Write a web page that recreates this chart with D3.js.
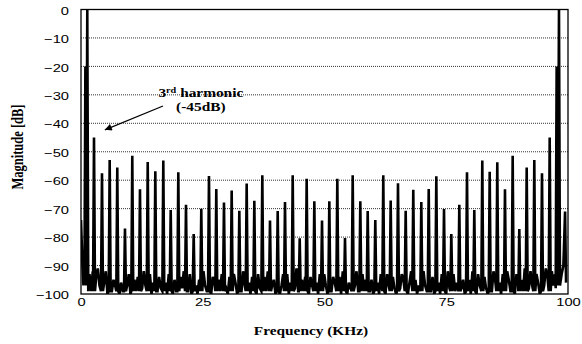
<!DOCTYPE html>
<html>
<head>
<meta charset="utf-8">
<script src="https://cdn.jsdelivr.net/npm/d3@7"></script>
<style>
  html, body { margin: 0; padding: 0; background: #fff; }
  svg { display: block; }
</style>
</head>
<body>
<div id="chart"></div>
<script>
// ---- data ----
const xTicks = [0, 25, 50, 75, 100];
const yTicks = [0, -10, -20, -30, -40, -50, -60, -70, -80, -90, -100];

// harmonic peaks: frequency (kHz) and magnitude (dB)
const peakKHz = [1.29, 2.67, 4.31, 5.89, 7.45, 9.03, 10.53, 12.11, 13.70, 15.26,
  16.90, 18.42, 19.98, 21.56, 23.14, 24.70, 26.28, 27.78, 29.36, 30.94,
  32.51, 34.02, 35.59, 37.23, 38.81, 40.39, 41.89, 43.47, 44.91, 46.34,
  47.91, 49.49, 50.99, 52.63, 54.21, 55.79, 57.35, 58.87, 60.43, 62.07,
  63.59, 65.09, 66.67, 68.23, 69.88, 71.40, 72.96, 74.54, 76.04, 77.68,
  79.26, 80.76, 82.40, 83.92, 85.48, 87.06, 88.64, 90.00, 91.52, 93.08,
  94.66, 96.24, 98.15];
const peakDb = [0, -45, -57.6, -52.9, -55.5, -77, -51.4, -63.2, -53.6, -56.9,
  -53.1, -70.5, -57.2, -68.6, -78.9, -70, -58.5, -63.1, -67.8, -63.6,
  -70.7, -61.2, -67.2, -58.3, -74.2, -70.8, -67.7, -58.3, -80.4, -59.5,
  -67.4, -74.2, -67.4, -59.5, -80.3, -58.3, -67.4, -70.8, -74, -58.3,
  -67.1, -61.1, -70.7, -63.4, -67.7, -63.1, -58.6, -70.1, -78.9, -68.6,
  -57.2, -70.5, -53.1, -57, -53.7, -63.2, -51.4, -77.2, -55.5, -52.9,
  -57.6, -45, 0];

// noise floor between consecutive peaks (dB), three readings per gap
const gapNoiseDb = [
  [-93, -99, -92], [-94, -91, -97], [-96, -92, -100], [-99, -95, -97], [-100, -96, -99],
  [-97, -93, -100], [-95, -99, -94], [-98, -92, -97], [-93, -100, -96], [-99, -94, -98],
  [-96, -100, -93], [-100, -95, -99], [-94, -98, -92], [-99, -93, -100], [-97, -100, -95],
  [-92, -97, -99], [-100, -94, -96], [-95, -99, -93], [-98, -100, -94], [-93, -96, -100],
  [-99, -92, -97], [-96, -100, -94], [-100, -93, -98], [-94, -99, -92], [-97, -95, -100],
  [-100, -97, -93], [-93, -100, -96], [-98, -91, -99], [-95, -99, -94], [-100, -94, -97],
  [-96, -100, -93], [-93, -97, -100], [-99, -94, -96], [-94, -100, -92], [-100, -96, -98],
  [-97, -92, -99], [-93, -99, -95], [-99, -95, -100], [-96, -100, -93], [-100, -93, -97],
  [-94, -98, -100], [-98, -93, -95], [-100, -96, -92], [-95, -100, -97], [-92, -97, -99],
  [-99, -94, -100], [-96, -100, -93], [-100, -92, -98], [-93, -99, -96], [-98, -95, -100],
  [-95, -100, -92], [-100, -93, -97], [-94, -98, -100], [-99, -92, -95], [-96, -100, -93],
  [-92, -95, -99], [-100, -93, -96], [-95, -99, -91], [-98, -92, -97], [-93, -96, -100],
  [-97, -91, -94], [-92, -97, -93]
];
const gapOffsetKHz = [0.45, 0.78, 1.12];
const baseDb = -99;
const baseHalfKHz = 0.2;

// spectrum ends, including the -20 dB spikes right beside the fundamentals
const leftEdge = [[0, -74], [0.3, -90], [0.5, -97], [0.72, -93], [0.9, -20], [1.06, -97]];
const rightEdge = [[98.35, -97], [98.7, -93], [99.05, -90], [99.4, -71], [99.6, -96]];
const rightShoulder = [[97.47, -98], [97.67, -20], [97.88, -97]];

// annotation
const noteLines = ['harmonic', '(-45dB)'];
const noteAt = [24.6, -30.8];
const noteArrow = { from: [16.84, -33.9], to: [4.9, -42.3] };

// ---- chart ----
const W = 582, H = 344;
const PLOT = { left: 81, right: 568, top: 9.5, bottom: 294 };
const STRETCH = 1.28;   // text in the reference is drawn wider than tall

const svg = d3.select('#chart').append('svg')
  .attr('width', W).attr('height', H)
  .style('background', '#fff');

const x = d3.scaleLinear().domain([0, 100]).range([PLOT.left, PLOT.right]);
const y = d3.scaleLinear().domain([-100, 0]).range([PLOT.bottom, PLOT.top]);

// gridlines
svg.append('g').selectAll('line')
  .data(yTicks.filter(d => d !== 0 && d !== -100))
  .join('line')
  .attr('x1', PLOT.left).attr('x2', PLOT.right)
  .attr('y1', d => y(d)).attr('y2', d => y(d))
  .attr('stroke', '#333')
  .attr('stroke-width', 1)
  .attr('stroke-dasharray', '1 1');

// build spectrum polyline
const pts = leftEdge.slice();
peakKHz.forEach((f, k) => {
  if (k === peakKHz.length - 1) rightShoulder.forEach(p => pts.push(p));
  else if (k > 0) pts.push([f - baseHalfKHz, baseDb]);
  pts.push([f, peakDb[k]]);
  if (k < peakKHz.length - 1) {
    pts.push([f + baseHalfKHz, baseDb]);
    gapNoiseDb[k].forEach((v, j) => pts.push([f + gapOffsetKHz[j], v]));
  }
});
rightEdge.forEach(p => pts.push(p));

const defs = svg.append('defs');
defs.append('clipPath').attr('id', 'plotClip')
  .append('rect')
  .attr('x', PLOT.left).attr('y', PLOT.top - 2)
  .attr('width', PLOT.right - PLOT.left).attr('height', PLOT.bottom - PLOT.top + 2);

svg.append('path')
  .datum(pts)
  .attr('clip-path', 'url(#plotClip)')
  .attr('fill', 'none')
  .attr('stroke', '#000')
  .attr('stroke-width', 2.6)
  .attr('stroke-linejoin', 'miter')
  .attr('d', d3.line().x(d => x(d[0])).y(d => y(d[1])));

// frame
svg.append('rect')
  .attr('x', PLOT.left).attr('y', PLOT.top)
  .attr('width', PLOT.right - PLOT.left).attr('height', PLOT.bottom - PLOT.top)
  .attr('fill', 'none')
  .attr('stroke', '#000')
  .attr('stroke-width', 1.3);

// axes
const yAxis = svg.append('g')
  .attr('transform', `translate(${PLOT.left},0)`)
  .call(d3.axisLeft(y).tickValues(yTicks).tickSize(0).tickPadding(12).tickFormat(d3.format('d')));
const xAxis = svg.append('g')
  .attr('transform', `translate(0,${PLOT.bottom})`)
  .call(d3.axisBottom(x).tickValues(xTicks).tickSize(0).tickPadding(4));
[xAxis, yAxis].forEach(a => {
  a.select('.domain').remove();
  a.selectAll('text')
    .attr('font-family', '"Liberation Sans", Arial, sans-serif')
    .attr('font-size', 11.5)
    .attr('fill', '#000');
});
yAxis.selectAll('text')
  .attr('dy', '0.4em')
  .attr('x', 0)
  .attr('transform', `translate(-12,0) scale(${STRETCH},1)`);
xAxis.selectAll('text')
  .attr('transform', `scale(${STRETCH},1)`);

// axis titles
svg.append('text')
  .attr('transform', `translate(23,147) rotate(-90) scale(1,${STRETCH})`)
  .attr('text-anchor', 'middle')
  .attr('font-family', '"Liberation Serif", "Times New Roman", serif')
  .attr('font-weight', 'bold')
  .attr('font-size', 12.5)
  .text('Magnitude [dB]');

svg.append('text')
  .attr('transform', `translate(311,335) scale(${STRETCH},1)`)
  .attr('text-anchor', 'middle')
  .attr('font-family', '"Liberation Serif", "Times New Roman", serif')
  .attr('font-weight', 'bold')
  .attr('font-size', 12)
  .text('Frequency (KHz)');

// annotation
const note = svg.append('text')
  .attr('transform', `translate(${x(noteAt[0])},${y(noteAt[1])}) scale(${STRETCH},1)`)
  .attr('text-anchor', 'middle')
  .attr('font-family', '"Liberation Serif", "Times New Roman", serif')
  .attr('font-weight', 'bold')
  .attr('font-size', 12);
note.append('tspan').text('3');
note.append('tspan').attr('font-size', 8).attr('dy', -4).text('rd');
note.append('tspan').attr('dy', 4).text(' ' + noteLines[0]);
note.append('tspan')
  .attr('x', 0).attr('dy', 13.5)
  .text(noteLines[1]);

defs.append('marker')
  .attr('id', 'arrowHead')
  .attr('viewBox', '0 -5 10 10')
  .attr('refX', 10).attr('refY', 0)
  .attr('markerWidth', 10).attr('markerHeight', 7)
  .attr('markerUnits', 'userSpaceOnUse')
  .attr('orient', 'auto')
  .append('path')
  .attr('d', 'M0,-5L10,0L0,5Z')
  .attr('fill', '#000');

svg.append('line')
  .attr('x1', x(noteArrow.from[0])).attr('y1', y(noteArrow.from[1]))
  .attr('x2', x(noteArrow.to[0])).attr('y2', y(noteArrow.to[1]))
  .attr('stroke', '#000')
  .attr('stroke-width', 1.2)
  .attr('marker-end', 'url(#arrowHead)');
</script>
</body>
</html>
